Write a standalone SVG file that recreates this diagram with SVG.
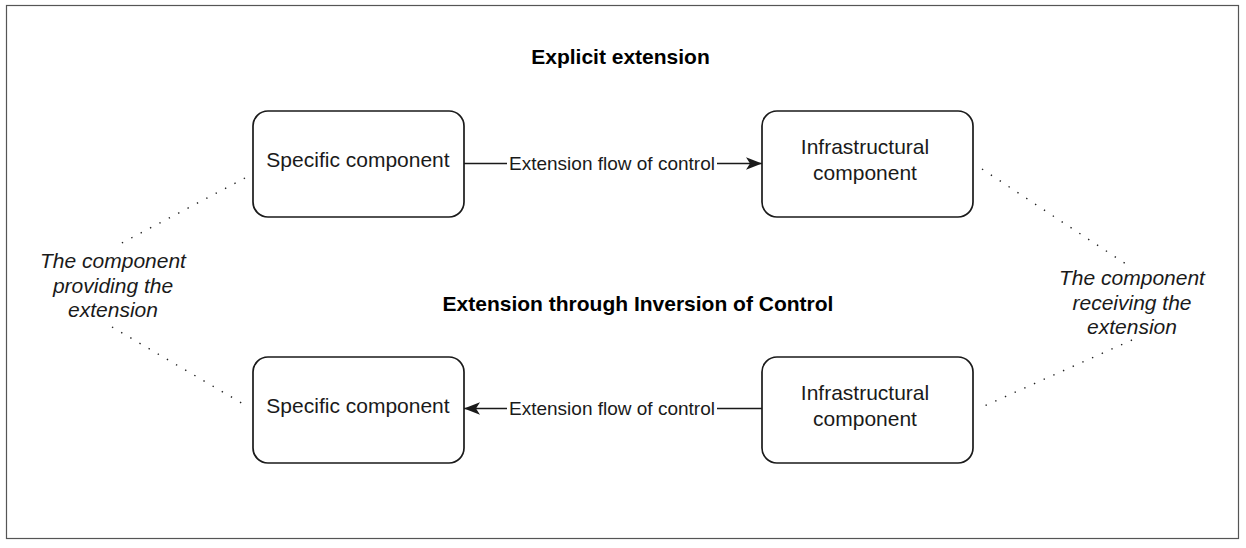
<svg xmlns="http://www.w3.org/2000/svg" width="1246" height="548" viewBox="0 0 1246 548">
  <style>
    .frame { fill: #ffffff; stroke: #555555; stroke-width: 1.2; }
    .box { fill: #ffffff; stroke: #1a1a1a; stroke-width: 1.7; }
    .t { font-family: "Liberation Sans", Arial, sans-serif; font-size: 21px; fill: #1a1a1a; text-anchor: middle; }
    .title { font-family: "Liberation Sans", Arial, sans-serif; font-size: 21px; font-weight: bold; fill: #000000; text-anchor: middle; }
    .note { font-family: "Liberation Sans", Arial, sans-serif; font-size: 21px; font-style: italic; fill: #1a1a1a; text-anchor: middle; }
    .lbl { font-family: "Liberation Sans", Arial, sans-serif; font-size: 19px; fill: #1a1a1a; text-anchor: middle; }
    .edge { fill: none; stroke: #1a1a1a; stroke-width: 1.7; }
    .dot { fill: none; stroke: #222222; stroke-width: 1.4; stroke-dasharray: 1.4 9.2; }
  </style>
  <defs>
    <marker id="arrow" markerUnits="userSpaceOnUse" markerWidth="18" markerHeight="14" refX="16" refY="7" orient="auto">
      <path d="M0,0.8 L16,7 L0,13.2 L4,7 Z" fill="#1a1a1a"/>
    </marker>
  </defs>

  <rect class="frame" x="6.5" y="5.5" width="1232" height="533"/>

  <g id="title-explicit">
    <text class="title" x="620.5" y="64">Explicit extension</text>
  </g>
  <g id="title-ioc">
    <text class="title" x="638" y="311">Extension through Inversion of Control</text>
  </g>

  <g id="connectors">
    <path class="edge" d="M464,163.5 L762,163.5" marker-end="url(#arrow)"/>
    <path class="edge" d="M762,408.5 L464,408.5" marker-end="url(#arrow)"/>
    <path class="dot" d="M245,178 L118,245"/>
    <path class="dot" d="M112,327 L245,405"/>
    <path class="dot" d="M982,169 L1132,268"/>
    <path class="dot" d="M1132,340 L982,407"/>
    <g id="label-top">
      <rect x="507" y="151" width="210" height="25" fill="#ffffff"/>
      <text class="lbl" x="612" y="169.5">Extension flow of control</text>
    </g>
    <g id="label-bottom">
      <rect x="507" y="396" width="210" height="25" fill="#ffffff"/>
      <text class="lbl" x="612" y="414.5">Extension flow of control</text>
    </g>
  </g>

  <g id="specific-top">
    <rect class="box" x="253" y="111" width="211" height="106" rx="15" ry="15"/>
    <text class="t" x="358" y="167">Specific component</text>
  </g>
  <g id="infra-top">
    <rect class="box" x="762" y="111" width="211" height="106" rx="15" ry="15"/>
    <text class="t" x="865" y="154">Infrastructural</text>
    <text class="t" x="865" y="180">component</text>
  </g>
  <g id="specific-bottom">
    <rect class="box" x="253" y="357" width="211" height="106" rx="15" ry="15"/>
    <text class="t" x="358" y="413">Specific component</text>
  </g>
  <g id="infra-bottom">
    <rect class="box" x="762" y="357" width="211" height="106" rx="15" ry="15"/>
    <text class="t" x="865" y="400">Infrastructural</text>
    <text class="t" x="865" y="426">component</text>
  </g>

  <g id="note-providing">
    <text class="note" x="113" y="268">The component</text>
    <text class="note" x="113" y="293">providing the</text>
    <text class="note" x="113" y="317">extension</text>
  </g>
  <g id="note-receiving">
    <text class="note" x="1132" y="285">The component</text>
    <text class="note" x="1132" y="310">receiving the</text>
    <text class="note" x="1132" y="334">extension</text>
  </g>
</svg>
